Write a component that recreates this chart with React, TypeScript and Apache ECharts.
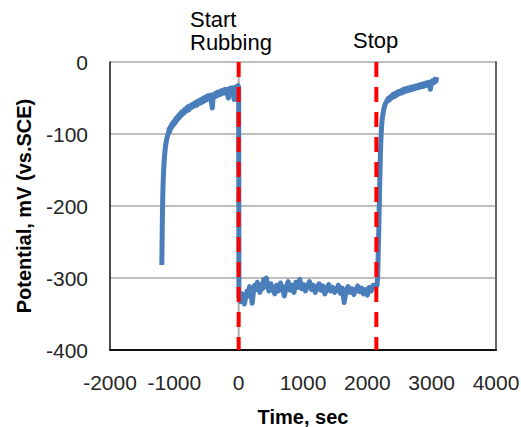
import React, { useEffect, useRef } from "react";
import * as echarts from "echarts";

// Time (sec), Potential (mV vs. SCE)
const beforeRubbing: [number, number][] = [
  [-1195, -282], [-1192, -262], [-1189, -240], [-1186, -218], [-1182, -196], [-1177, -176],
  [-1170, -158], [-1162, -143], [-1152, -130], [-1140, -119], [-1125, -110], [-1108, -103],
  [-1090, -98], [-1080, -93], [-1070, -96], [-1060, -90], [-1050, -92], [-1040, -87],
  [-1030, -89], [-1020, -84], [-1010, -87], [-1000, -82], [-990, -85], [-980, -79],
  [-970, -82], [-960, -77], [-950, -80], [-940, -75], [-930, -78], [-920, -73],
  [-910, -76], [-900, -71], [-890, -74], [-880, -69], [-870, -72], [-860, -68],
  [-850, -71], [-840, -66], [-830, -69], [-820, -65], [-810, -68], [-800, -63],
  [-790, -67], [-780, -62], [-770, -66], [-760, -61], [-750, -64], [-740, -60],
  [-730, -63], [-720, -59], [-710, -62], [-700, -58], [-690, -61], [-680, -57],
  [-670, -60], [-660, -56], [-650, -60], [-640, -55], [-630, -58], [-620, -54],
  [-610, -57], [-600, -53], [-590, -57], [-580, -52], [-570, -56], [-560, -51],
  [-550, -55], [-540, -50], [-530, -54], [-520, -49], [-510, -53], [-500, -48],
  [-490, -52], [-480, -47], [-470, -51], [-460, -47], [-450, -50], [-440, -46],
  [-430, -50], [-420, -58], [-410, -64], [-400, -52], [-390, -45], [-380, -49],
  [-370, -44], [-360, -48], [-350, -43], [-340, -47], [-330, -42], [-320, -46],
  [-310, -42], [-300, -45], [-290, -41], [-280, -45], [-270, -40], [-260, -44],
  [-250, -40], [-240, -43], [-230, -39], [-220, -43], [-210, -38], [-200, -42],
  [-190, -38], [-180, -41], [-170, -46], [-160, -50], [-150, -40], [-140, -37],
  [-130, -41], [-120, -36], [-110, -40], [-100, -36], [-90, -39], [-80, -47],
  [-70, -52], [-60, -40], [-50, -35], [-40, -38], [-30, -34], [-20, -37],
  [-10, -33], [0, -35],
];

const duringRubbing: [number, number][] = [
  [4, -326], [10, -328], [30, -333], [50, -322], [70, -330], [90, -336], [110, -326],
  [130, -318], [150, -325], [170, -312], [190, -320], [210, -335], [230, -319],
  [250, -310], [270, -316], [290, -306], [310, -314], [330, -320], [350, -309],
  [370, -315], [390, -302], [410, -312], [430, -300], [450, -311], [470, -318],
  [500, -308], [530, -316], [560, -322], [590, -310], [620, -318], [650, -307],
  [680, -314], [710, -325], [740, -312], [770, -305], [800, -317], [830, -310],
  [860, -320], [890, -306], [920, -313], [950, -302], [980, -315], [1010, -309],
  [1040, -318], [1070, -311], [1100, -305], [1130, -316], [1160, -310], [1190, -320],
  [1220, -313], [1250, -308], [1280, -317], [1310, -311], [1340, -322], [1370, -315],
  [1400, -309], [1430, -318], [1460, -313], [1490, -320], [1520, -316], [1550, -310],
  [1580, -321], [1610, -314], [1640, -334], [1670, -318], [1700, -312], [1730, -320],
  [1760, -315], [1790, -323], [1820, -317], [1850, -311], [1880, -319], [1910, -314],
  [1940, -322], [1970, -316], [2000, -324], [2030, -313], [2060, -318], [2090, -310],
  [2120, -312], [2150, -310],
];

const afterStop: [number, number][] = [
  [2160, -300], [2168, -270], [2176, -240], [2183, -210], [2190, -180], [2197, -150],
  [2204, -125], [2212, -105], [2220, -92], [2230, -80], [2245, -71], [2260, -64],
  [2280, -58], [2300, -55], [2320, -51], [2340, -53], [2360, -48], [2380, -50],
  [2400, -45], [2420, -48], [2440, -43], [2460, -46], [2480, -41], [2500, -44],
  [2520, -40], [2540, -43], [2560, -38], [2580, -41], [2600, -37], [2620, -40],
  [2640, -36], [2660, -39], [2680, -35], [2700, -38], [2720, -34], [2740, -37],
  [2760, -33], [2780, -36], [2800, -32], [2820, -35], [2840, -31], [2860, -34],
  [2880, -30], [2900, -33], [2920, -29], [2940, -32], [2960, -28], [2980, -38],
  [2995, -31], [3010, -26], [3030, -29], [3050, -24], [3065, -27], [3080, -21],
];

const startTime = 0;
const stopTime = 2140;
const yMin = -400;
const yMax = 0;
const xMin = -2000;
const xMax = 4000;
const xInterval = 1000;
const yInterval = 100;

export default function App() {
  const ref = useRef<HTMLDivElement>(null);
  useEffect(() => {
    if (!ref.current) return;
    const chart = echarts.init(ref.current, undefined, { renderer: "svg" });
    const tickFont = { fontFamily: "Liberation Sans", fontSize: 21, color: "#262626" };
    const allData = [...beforeRubbing, ...duringRubbing, ...afterStop];
    chart.setOption({
      animation: false,
      grid: { left: 110, right: 25, top: 62, bottom: 77, outerBoundsMode: "none", containLabel: false },
      xAxis: {
        type: "value",
        min: xMin,
        max: xMax,
        interval: xInterval,
        name: "Time, sec",
        nameLocation: "middle",
        nameGap: 57,
        nameTextStyle: { fontFamily: "Liberation Sans", fontSize: 20, fontWeight: "bold", color: "#000" },
        axisLine: { onZero: false, lineStyle: { color: "#111", width: 2 } },
        axisTick: { show: false },
        axisLabel: { ...tickFont, margin: 22, formatter: (v: number) => String(v) },
        splitLine: { show: false },
      },
      yAxis: [
        {
          type: "value",
          min: yMin,
          max: yMax,
          interval: yInterval,
          name: "Potential, mV (vs.SCE)",
          nameLocation: "middle",
          nameGap: 76,
          nameTextStyle: { fontFamily: "Liberation Sans", fontSize: 20, fontWeight: "bold", color: "#000" },
          axisLine: { show: true, onZero: false, lineStyle: { color: "#111", width: 1.5 } },
          axisTick: { show: false },
          axisLabel: { ...tickFont, margin: 22, formatter: (v: number) => String(v) },
          splitLine: { show: true, lineStyle: { color: "#a8a8a8", width: 1.5 } },
        },
        {
          type: "value",
          min: yMin,
          max: yMax,
          interval: yInterval,
          position: "right",
          axisLine: { show: true, onZero: false, lineStyle: { color: "#666", width: 2 } },
          axisTick: { show: false },
          axisLabel: { show: false },
          splitLine: { show: false },
        },
      ],
      series: [
        {
          type: "line",
          z: 1,
          symbol: "none",
          silent: true,
          data: [[startTime, yMax], [startTime, yMin]],
          lineStyle: { color: "#aaaaaa", width: 2 },
        },
        {
          type: "line",
          z: 2,
          symbol: "none",
          data: allData,
          lineStyle: { color: "#4a7ebb", width: 5, join: "round" },
        },
        {
          type: "line",
          z: 3,
          symbol: "none",
          data: [[startTime, yMax], [startTime, yMin]],
          lineStyle: { color: "#ff0000", width: 4, type: [15, 10] },
        },
        {
          type: "line",
          z: 3,
          symbol: "none",
          data: [[stopTime, yMax], [stopTime, yMin]],
          lineStyle: { color: "#ff0000", width: 4, type: [15, 10] },
        },
      ],
      graphic: [
        {
          type: "text",
          left: 190,
          top: 8,
          style: {
            text: "Start",
            fontFamily: "Liberation Sans",
            fontSize: 22,
            fill: "#000",
          },
        },
        {
          type: "text",
          left: 190,
          top: 31,
          style: {
            text: "Rubbing",
            fontFamily: "Liberation Sans",
            fontSize: 22,
            fill: "#000",
          },
        },
        {
          type: "text",
          left: 353,
          top: 29,
          style: {
            text: "Stop",
            fontFamily: "Liberation Sans",
            fontSize: 22,
            fill: "#000",
          },
        },
      ],
    });
    return () => chart.dispose();
  }, []);
  return <div ref={ref} style={{ width: 521, height: 427, position: "absolute", left: 0, top: 0 }} />;
}
